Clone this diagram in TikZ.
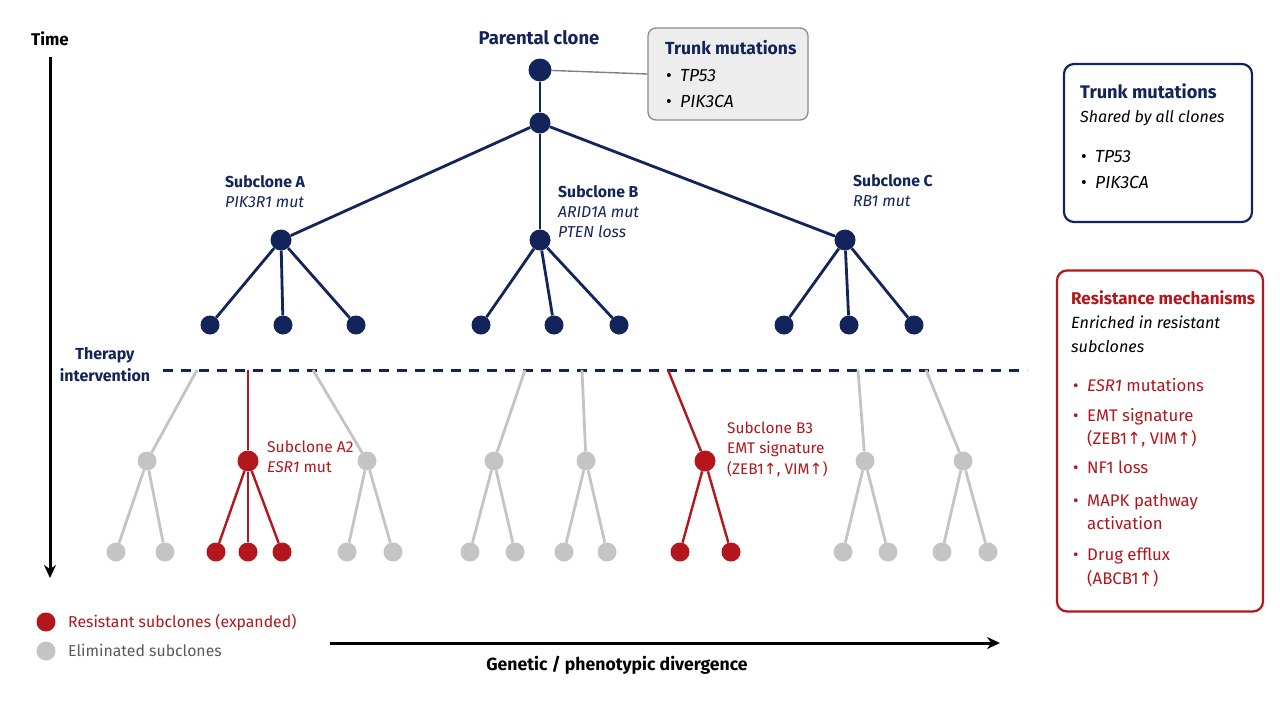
\documentclass[tikz,border=0pt]{standalone}
\usepackage{fontspec}
\setmainfont{Fira Sans}
\newfontfamily\symfont{DejaVu Sans}
\usetikzlibrary{arrows.meta}
\definecolor{navy}{HTML}{13245A}
\definecolor{rred}{HTML}{B3161C}
\definecolor{lgray}{HTML}{C4C4C4}
\definecolor{boxgray}{HTML}{EDEDED}
\definecolor{txtgray}{HTML}{5A5A5A}
\newcommand{\upar}{{\symfont\char"2191}}
\newcommand{\bul}{\makebox[14pt][l]{•}}
\newcommand{\ind}{\hspace*{14pt}}
\begin{document}
\begin{tikzpicture}[x=1pt,y=-1pt,
  ndot/.style={circle,fill=navy,inner sep=0pt,minimum size=21pt},
  nleaf/.style={circle,fill=navy,inner sep=0pt,minimum size=19pt},
  gdot/.style={circle,fill=lgray,inner sep=0pt,minimum size=19pt},
  rdot/.style={circle,fill=rred,inner sep=0pt,minimum size=21pt},
  rleaf/.style={circle,fill=rred,inner sep=0pt,minimum size=19pt},
  nedge/.style={draw=navy,line width=2.8pt},
  gedge/.style={draw=lgray,line width=2.8pt},
  redge/.style={draw=rred,line width=2.4pt},
  lbl/.style={anchor=base west,inner sep=0pt,align=left},
  f15/.style={font=\fontsize{15.8}{20}\selectfont},
]
\useasboundingbox[fill=white] (0,0) rectangle (1280,720);

% time axis
\node[lbl,anchor=base,font=\bfseries\fontsize{17}{20}\selectfont] (time) at (50,45) {Time};
\coordinate (ttop) at (50,57);
\coordinate (tbot) at (50,578);
\draw[line width=3pt,-{Stealth[length=13pt,width=12pt]}] (ttop) -- (tbot);

% parental
\node[lbl,anchor=base,font=\bfseries\fontsize{18.5}{20}\selectfont,text=navy] (plabel) at (539,44) {Parental clone};
\node[ndot,minimum size=23pt] (p) at (540,70) {};
\node[ndot] (p2) at (540,123) {};
\node[draw=gray!90,line width=1.3pt,fill=boxgray,rounded corners=8pt,minimum width=160pt,minimum height=92pt,inner sep=0pt] (tbox) at (728,74) {};
\node[lbl,font=\bfseries\fontsize{17.5}{20}\selectfont,text=navy] (tboxt) at (665,54) {Trunk mutations};
\node[lbl,font=\fontsize{17.5}{26.5}\selectfont] (tboxl) at (666,107.5) {\bul\textit{TP53}\\\bul\textit{PIK3CA}};
\draw[draw=gray,line width=1.4pt] (p) -- (tbox.west);
\draw[nedge] (p) -- (p2);

% subclones
\node[ndot] (a) at (281,240) {};
\node[ndot] (b) at (540,240) {};
\node[ndot] (c) at (845,240) {};
\draw[nedge] (p2) -- (a);
\draw[nedge] (p2) -- (b);
\draw[nedge] (p2) -- (c);
\node[lbl,f15,text=navy] (alab) at (225,207) {\textbf{Subclone A}\\\textit{PIK3R1 mut}};
\node[lbl,f15,text=navy] (blab) at (558,237) {\textbf{Subclone B}\\\textit{ARID1A mut}\\\textit{PTEN loss}};
\node[lbl,f15,text=navy] (clab) at (853,206) {\textbf{Subclone C}\\\textit{RB1 mut}};

\foreach \n/\x/\pp in {a1/210/a,a2/283/a,a3/356/a,b1/481/b,b2/554/b,b3/619/b,c1/784/c,c2/849/c,c3/914/c}{
  \node[nleaf] (\n) at (\x,325) {};
  \draw[nedge] (\pp) -- (\n);
}

% therapy line
\node[lbl,anchor=base,font=\bfseries\fontsize{16}{22}\selectfont,text=navy,align=center] (ther) at (105,381) {Therapy\\intervention};
\coordinate (dl) at (163,370);
\coordinate (dr) at (1027,370);
\draw[draw=navy,line width=3pt,dash pattern=on 10pt off 8pt] (dl) -- (dr);

% after therapy
\foreach \t/\tx/\n/\nx in {t1/197/g1/147,t2/313/g2/367,t3/525/g3/494,t4/582/g4/586,t5/858/g5/865,t6/926/g6/963}{
  \coordinate (\t) at (\tx,370);
  \node[gdot] (\n) at (\nx,461) {};
  \draw[gedge] (\t) -- (\n);
}
\foreach \l/\lx/\pp in {l1/116/g1,l2/165/g1,l3/347/g2,l4/393/g2,l5/470/g3,l6/515/g3,l7/564/g4,l8/607/g4,l9/843/g5,l10/888/g5,l11/942/g6,l12/988/g6}{
  \node[gdot] (\l) at (\lx,552) {};
  \draw[gedge] (\pp) -- (\l);
}
% resistant A2
\coordinate (ta2) at (248,370);
\node[rdot] (ra) at (248,461) {};
\draw[redge] (ta2) -- (ra);
\foreach \l/\lx in {ra1/216,ra2/248,ra3/282}{
  \node[rleaf] (\l) at (\lx,552) {};
  \draw[redge] (ra) -- (\l);
}
\node[lbl,font=\fontsize{15.6}{20}\selectfont,text=rred] (ralab) at (267,472) {Subclone A2\\\textit{ESR1} mut};
% resistant B3
\coordinate (tb3) at (668,370);
\node[rdot] (rb) at (705,461) {};
\draw[redge] (tb3) -- (rb);
\foreach \l/\lx in {rb1/680,rb2/731}{
  \node[rleaf] (\l) at (\lx,552) {};
  \draw[redge] (rb) -- (\l);
}
\node[lbl,font=\fontsize{15.4}{20.5}\selectfont,text=rred] (rblab) at (727,474) {Subclone B3\\EMT signature\\(ZEB1\upar, VIM\upar)};

% legend
\node[rleaf] (legr) at (46,622) {};
\node[lbl,font=\fontsize{15.8}{20}\selectfont,text=rred] (legrt) at (68,627) {Resistant subclones (expanded)};
\node[gdot] (legg) at (46,651) {};
\node[lbl,font=\fontsize{15.8}{20}\selectfont,text=txtgray] (leggt) at (68,656) {Eliminated subclones};

% divergence
\coordinate (dvl) at (330,643);
\coordinate (dvr) at (1000,643);
\draw[line width=3pt,-{Stealth[length=13pt,width=12pt]}] (dvl) -- (dvr);
\node[lbl,anchor=base,font=\bfseries\fontsize{17.6}{20}\selectfont] (dvt) at (617,670) {Genetic / phenotypic divergence};

% right trunk box
\node[draw=navy,line width=2.2pt,rounded corners=10pt,minimum width=188pt,minimum height=158pt,inner sep=0pt] (rtbox) at (1158,143) {};
\node[lbl,font=\bfseries\fontsize{18.2}{20}\selectfont,text=navy] (rtt) at (1080,98) {Trunk mutations};
\node[lbl,font=\itshape\fontsize{16}{20}\selectfont] (rts) at (1080,122) {Shared by all clones};
\node[lbl,font=\fontsize{17.5}{26}\selectfont] (rtl) at (1081,188) {\bul\textit{TP53}\\\bul\textit{PIK3CA}};

% resistance box
\node[draw=rred,line width=2.2pt,rounded corners=10pt,minimum width=206pt,minimum height=341pt,inner sep=0pt] (rsbox) at (1160,441) {};
\node[lbl,font=\bfseries\fontsize{17}{20}\selectfont,text=rred] (rst) at (1071,304) {Resistance mechanisms};
\node[lbl,font=\itshape\fontsize{16.2}{24}\selectfont] (rss) at (1071,352) {Enriched in resistant\\subclones};
\node[lbl,font=\fontsize{16.8}{20}\selectfont,text=rred] (r1) at (1073,391) {\bul\textit{ESR1} mutations};
\node[lbl,font=\fontsize{16.8}{23}\selectfont,text=rred] (r2) at (1073,444) {\bul EMT signature\\\ind(ZEB1\upar, VIM\upar)};
\node[lbl,font=\fontsize{16.8}{20}\selectfont,text=rred] (r3) at (1073,473) {\bul NF1 loss};
\node[lbl,font=\fontsize{16.8}{23}\selectfont,text=rred] (r4) at (1073,529) {\bul MAPK pathway\\\ind activation};
\node[lbl,font=\fontsize{16.8}{24}\selectfont,text=rred] (r5) at (1073,584) {\bul Drug efflux\\\ind(ABCB1\upar)};
\end{tikzpicture}
\end{document}
